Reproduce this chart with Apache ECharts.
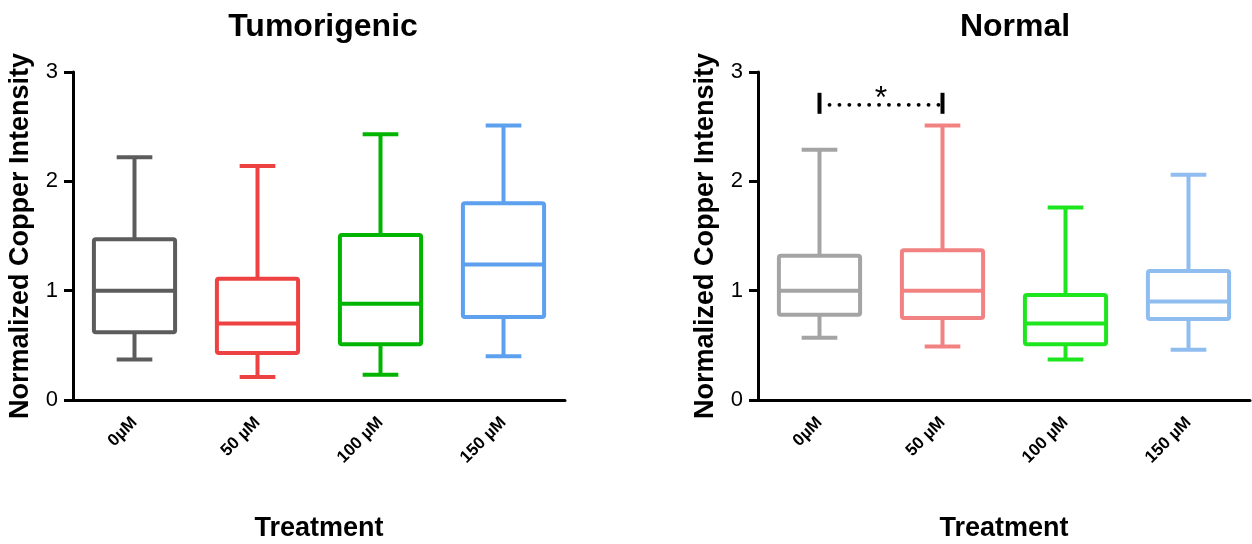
<!DOCTYPE html>
<html>
<head>
<meta charset="utf-8">
<script src="https://cdn.jsdelivr.net/npm/echarts@6/dist/echarts.min.js"></script>
<style>
html,body{margin:0;padding:0;background:#fff;}
#chart{width:1252px;height:544px;}
</style>
</head>
<body>
<div id="chart"></div>
<script>
// ---- data ----
const categories = ['0µM', '50 µM', '100 µM', '150 µM'];
const yTicks = [0, 1, 2, 3];

// Tumorigenic panel (whisker low, Q1, median, Q3, whisker high)
const tumorLow    = [0.37, 0.21, 0.23, 0.40];
const tumorQ1     = [0.62, 0.43, 0.51, 0.76];
const tumorMedian = [1.00, 0.70, 0.88, 1.24];
const tumorQ3     = [1.47, 1.11, 1.51, 1.80];
const tumorHigh   = [2.22, 2.14, 2.43, 2.51];

// Normal panel
const normalLow    = [0.57, 0.49, 0.37, 0.46];
const normalQ1     = [0.78, 0.75, 0.51, 0.74];
const normalMedian = [1.00, 1.00, 0.70, 0.90];
const normalQ3     = [1.32, 1.37, 0.96, 1.18];
const normalHigh   = [2.29, 2.51, 1.76, 2.06];

// significance bracket: [from category index, to category index, level]
const sigBracket = [[0, 1, 2.70]];
const sigLabel = '*';

// ---- styles ----
const tumorColors  = ['#5c5c5c', '#ee4242', '#00b400', '#5ca0ee'];
const normalColors = ['#a4a4a4', '#f28282', '#1ee61e', '#90bdf0'];
const FONT = 'Arial, "Liberation Sans", sans-serif';

function rows(lo, q1, med, q3, hi) {
  return categories.map((c, i) => [i, lo[i], q1[i], med[i], q3[i], hi[i]]);
}

function boxRenderer(colors) {
  return function (params, api) {
    const i = api.value(0);
    const pLo = api.coord([i, api.value(1)]);
    const pQ1 = api.coord([i, api.value(2)]);
    const pMed = api.coord([i, api.value(3)]);
    const pQ3 = api.coord([i, api.value(4)]);
    const pHi = api.coord([i, api.value(5)]);
    const band = api.size([1, 0])[0];
    const bw = band * 0.66 / 2;
    const cw = band * 0.29 / 2;
    const x = pMed[0];
    const col = colors[i];
    const st = { stroke: col, lineWidth: 4, fill: null };
    return {
      type: 'group',
      children: [
        { type: 'line', shape: { x1: x, y1: pQ3[1], x2: x, y2: pHi[1] }, style: st },
        { type: 'line', shape: { x1: x, y1: pQ1[1], x2: x, y2: pLo[1] }, style: st },
        { type: 'line', shape: { x1: x - cw, y1: pHi[1], x2: x + cw, y2: pHi[1] }, style: st },
        { type: 'line', shape: { x1: x - cw, y1: pLo[1], x2: x + cw, y2: pLo[1] }, style: st },
        { type: 'rect', shape: { x: x - bw, y: pQ3[1], width: 2 * bw, height: pQ1[1] - pQ3[1], r: 2 },
          style: { stroke: col, lineWidth: 4, fill: '#fff', lineJoin: 'round' } },
        { type: 'line', shape: { x1: x - bw, y1: pMed[1], x2: x + bw, y2: pMed[1] }, style: st }
      ]
    };
  };
}

function bracketRenderer(params, api) {
  const a = api.coord([api.value(0), api.value(2)]);
  const b = api.coord([api.value(1), api.value(2)]);
  const y = a[1];
  const bar = { stroke: '#000', lineWidth: 4 };
  return {
    type: 'group',
    children: [
      { type: 'line', shape: { x1: a[0], y1: y - 12, x2: a[0], y2: y + 9 }, style: bar },
      { type: 'line', shape: { x1: b[0], y1: y - 12, x2: b[0], y2: y + 9 }, style: bar },
      { type: 'line', shape: { x1: a[0] + 10, y1: y, x2: b[0] - 4, y2: y },
        style: { stroke: '#000', lineWidth: 3.8, lineCap: 'round', lineDash: [0.1, 9.8] } },
      { type: 'text', style: { text: sigLabel, x: (a[0] + b[0]) / 2, y: y + 10, align: 'center',
        verticalAlign: 'bottom', font: '32px ' + FONT, fill: '#000' } }
    ]
  };
}

const grids = [
  { left: 73, top: 72, width: 492, height: 328, outerBoundsMode: 'none', containLabel: false },
  { left: 758, top: 72, width: 492, height: 328, outerBoundsMode: 'none', containLabel: false }
];

function xAxis(gi) {
  return {
    type: 'category', gridIndex: gi, data: categories, boundaryGap: true,
    name: 'Treatment', nameLocation: 'middle', nameGap: 115,
    nameTextStyle: { fontFamily: FONT, fontWeight: 'bold', fontSize: 27, color: '#000' },
    axisLine: { lineStyle: { color: '#000', width: 3 } },
    axisTick: { alignWithLabel: true, length: 8, lineStyle: { color: '#000', width: 3 } },
    axisLabel: { rotate: 45, margin: 20, fontFamily: FONT, fontWeight: 'bold', fontSize: 17, color: '#000', interval: 0 },
    splitLine: { show: false }
  };
}
function yAxis(gi) {
  return {
    type: 'value', gridIndex: gi, min: yTicks[0], max: yTicks[yTicks.length - 1], interval: 1,
    name: 'Normalized Copper Intensity', nameLocation: 'middle', nameGap: 39,
    nameTextStyle: { fontFamily: FONT, fontWeight: 'bold', fontSize: 27, color: '#000' },
    axisLine: { show: true, lineStyle: { color: '#000', width: 3 } },
    axisTick: { show: true, length: 9, lineStyle: { color: '#000', width: 3 } },
    axisLabel: { margin: 15, fontFamily: FONT, fontSize: 22, color: '#000' },
    splitLine: { show: false }
  };
}

const chart = echarts.init(document.getElementById('chart'), null, { renderer: 'canvas' });
chart.setOption({
  animation: false,
  backgroundColor: '#fff',
  title: [
    { text: 'Tumorigenic', left: 318, top: 6, textAlign: 'center',
      textStyle: { fontFamily: FONT, fontWeight: 'bold', fontSize: 32, color: '#000' } },
    { text: 'Normal', left: 1010, top: 6, textAlign: 'center',
      textStyle: { fontFamily: FONT, fontWeight: 'bold', fontSize: 32, color: '#000' } }
  ],
  grid: grids,
  xAxis: [xAxis(0), xAxis(1)],
  yAxis: [yAxis(0), yAxis(1)],
  series: [
    { type: 'custom', xAxisIndex: 0, yAxisIndex: 0, renderItem: boxRenderer(tumorColors),
      data: rows(tumorLow, tumorQ1, tumorMedian, tumorQ3, tumorHigh), encode: { x: 0, y: [1, 2, 3, 4, 5] } },
    { type: 'custom', xAxisIndex: 1, yAxisIndex: 1, renderItem: boxRenderer(normalColors),
      data: rows(normalLow, normalQ1, normalMedian, normalQ3, normalHigh), encode: { x: 0, y: [1, 2, 3, 4, 5] } },
    { type: 'custom', xAxisIndex: 1, yAxisIndex: 1, renderItem: bracketRenderer,
      data: sigBracket, encode: { x: [0, 1], y: 2 }, z: 5 }
  ]
});
</script>
</body>
</html>
